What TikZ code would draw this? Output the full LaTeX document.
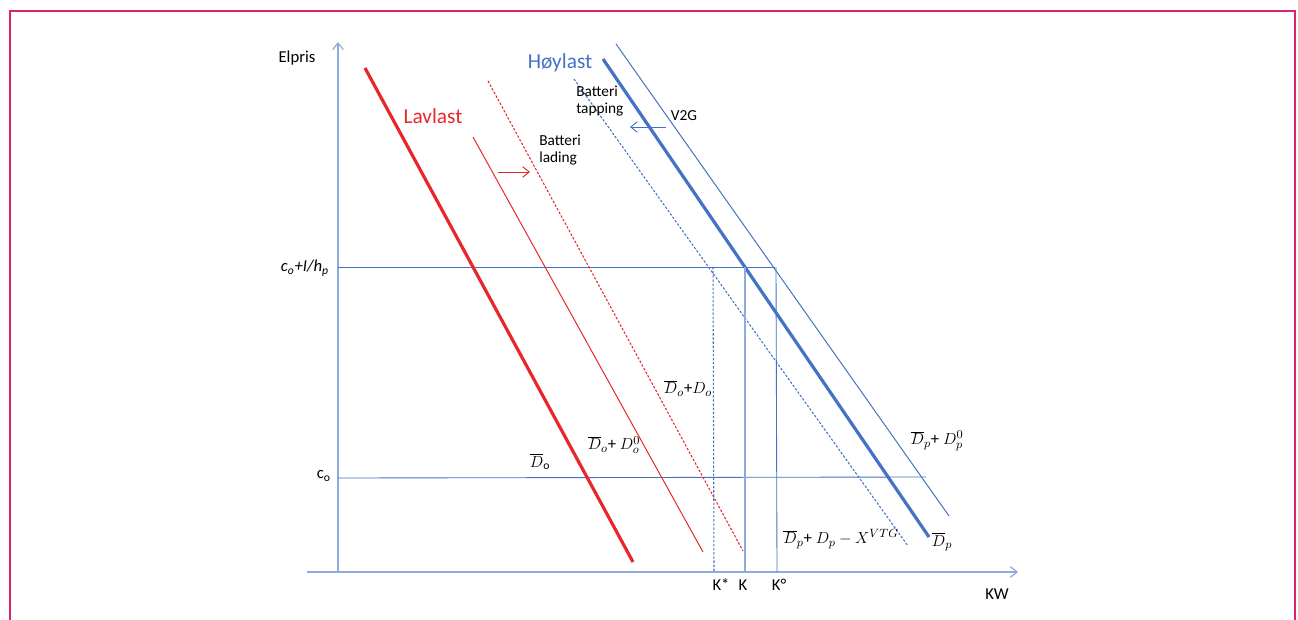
\documentclass[tikz,border=0pt]{standalone}
\usepackage{fontspec}
\setmainfont{Carlito}
\usetikzlibrary{arrows.meta}
\definecolor{frame}{HTML}{D6246E}
\definecolor{axisblue}{HTML}{8FAADC}
\definecolor{lblue}{HTML}{4472C4}
\definecolor{lred}{HTML}{E8262B}
\tikzset{
  axis/.style={draw=axisblue, line width=0.9pt, -{Straight Barb[length=5pt,width=8pt]}},
  thinred/.style={draw=lred, line width=0.75pt},
  thickred/.style={draw=lred, line width=2.4pt},
  dotred/.style={draw=lred, line width=0.8pt, dash pattern=on 1.8pt off 1.3pt},
  thinblue/.style={draw=lblue, line width=0.75pt},
  thickblue/.style={draw=lblue, line width=2.4pt},
  dotblue/.style={draw=lblue, line width=0.8pt, dash pattern=on 1.8pt off 1.3pt},
  guide/.style={draw=lblue, line width=0.65pt},
  shiftarrow/.style={line width=0.7pt, -{Straight Barb[length=5pt,width=8pt]}},
  lbl/.style={inner sep=0pt, font=\fontsize{12.5}{14}\selectfont},
  small/.style={inner sep=0pt, font=\fontsize{11.5}{13}\selectfont, align=left},
  big/.style={inner sep=0pt, font=\fontsize{16}{19}\selectfont},
  mlbl/.style={inner sep=0pt, font=\fontsize{12.5}{14}\selectfont}
}
\begin{document}
\begin{tikzpicture}[x=0.75pt,y=-0.75pt]
\useasboundingbox (0,0) rectangle (1298,620);
% frame
\draw[frame, line width=1.5pt] (10,625) -- (10,11) -- (1295,11) -- (1295,625);

% axes
\coordinate (O) at (338,572);
\coordinate (ytop) at (338,42);
\coordinate (xl) at (307,572);
\coordinate (xr) at (1018,572);
\draw[axis] (O) -- (ytop);
\draw[axis] (xl) -- (xr);
\node[lbl] (elpris) at (297,58) {Elpris};
\node[lbl] (kw) at (997,594) {KW};

% price levels
\coordinate (hy) at (338,267);
\coordinate (hyend) at (775,267);
\coordinate (cy) at (338,478);
\coordinate (cyend) at (926,477);
\draw[guide] (hy) -- (hyend);
\draw[guide] (cy) -- (cyend);
\node[lbl, anchor=east] (hlab) at (329,268) {\itshape c\textsubscript{o}+I/h\textsubscript{p}};
\node[lbl, anchor=east] (clab) at (331,476) {c\textsubscript{o}};

% low-load curves
\coordinate (r1a) at (365,68);  \coordinate (r1b) at (633,562);
\coordinate (r2a) at (473,137); \coordinate (r2b) at (703,552);
\coordinate (r3a) at (488,81);  \coordinate (r3b) at (743,551);
\draw[thickred] (r1a) -- (r1b);
\draw[thinred] (r2a) -- (r2b);
\draw[dotred] (r3a) -- (r3b);
\node[big, text=lred] (lav) at (433,116) {Lavlast};
\coordinate (ra1) at (498,172); \coordinate (ra2) at (530,172);
\draw[shiftarrow, lred] (ra1) -- (ra2);
\node[small, anchor=west] (lading) at (539,150) {Batteri\\lading};

% high-load curves
\coordinate (b1a) at (603,59);  \coordinate (b1b) at (929,537);
\coordinate (b2a) at (616,44);  \coordinate (b2b) at (949,516);
\coordinate (b3a) at (574,79);  \coordinate (b3b) at (908,546);
\draw[thickblue] (b1a) -- (b1b);
\draw[thinblue] (b2a) -- (b2b);
\draw[dotblue] (b3a) -- (b3b);
\node[big, text=lblue] (hoy) at (560,63) {Høylast};
\node[small, anchor=west] (tapping) at (576,101) {Batteri\\tapping};
\coordinate (ba1) at (666,127); \coordinate (ba2) at (630,127);
\draw[shiftarrow, lblue] (ba1) -- (ba2);
\node[small] (v2g) at (684,116) {V2G};

% capacity lines
\coordinate (ks) at (713,267); \coordinate (ksb) at (714,572);
\coordinate (k) at (745,267);  \coordinate (kb) at (745,572);
\coordinate (kc) at (776,267); \coordinate (kcb) at (777,572);
\draw[dotblue] (ks) -- (ksb);
\draw[guide, draw=axisblue, line width=1pt] (k) -- (kb);
\draw[guide] (kc) -- (kcb);
\node[lbl] (kslab) at (721,585) {K*};
\node[lbl] (klab) at (743,585) {K};
\node[lbl] (kclab) at (779,585) {K°};

% curve labels
\node[mlbl] (l1) at (540,462) {$\overline{D}_\mathrm{o}$};
\node[mlbl] (l2) at (614,445) {$\overline{D}_o$+ $D_o^0$};
\node[mlbl] (l3) at (688,388) {$\overline{D}_o$+$D_o$};
\node[mlbl] (l4) at (937,441) {$\overline{D}_p$+ $D_p^0$};
\node[mlbl] (l5) at (841,539) {$\overline{D}_p$+ $D_p - X^{VTG}$};
\node[mlbl] (l6) at (942,542) {$\overline{D}_p$};
\end{tikzpicture}
\end{document}
